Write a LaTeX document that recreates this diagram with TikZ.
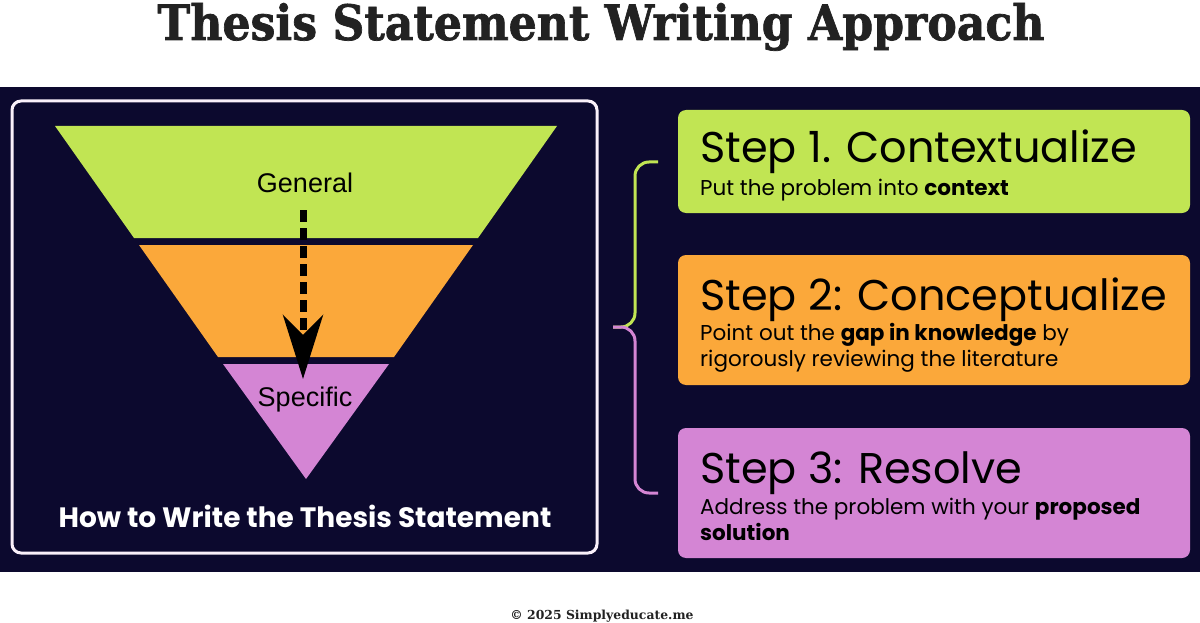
\documentclass[tikz,border=0pt]{standalone}
\usepackage{graphicx}
\usepackage{fontspec}
\setmainfont{DejaVu Serif}
\newfontfamily\titlefont[FakeBold=1.5]{DejaVu Serif Bold}
\newfontfamily\stepfont{Poppins}
\newfontfamily\funnelfont{Liberation Sans}
\usetikzlibrary{arrows.meta,positioning}
\definecolor{navycol}{RGB}{12,9,46}
\definecolor{greencol}{RGB}{193,229,83}
\definecolor{orangecol}{RGB}{251,168,58}
\definecolor{purplecol}{RGB}{212,133,212}
\definecolor{titlecol}{RGB}{34,34,34}

\begin{document}
\begin{tikzpicture}[
    x=1pt, y=-1pt,
    steptitle/.style={anchor=base west, inner sep=0, font=\stepfont\fontsize{43}{48}\selectfont},
    stepsub/.style={anchor=base west, inner sep=0, align=left, font=\stepfont\fontsize{21.5}{26}\selectfont},
    stepbox/.style={rounded corners=8pt},
    funnellbl/.style={inner sep=0, font=\funnelfont\fontsize{27}{30}\selectfont},
    bracelink/.style={line width=3pt, rounded corners=14pt},
]
\useasboundingbox (0,0) rectangle (1200,623);
\fill[white] (0,0) rectangle (1200,623);

% title and footer
\node[anchor=base, inner sep=0, text=titlecol] (title) at (601,40)
  {\resizebox{887pt}{37pt}{\titlefont Thesis Statement Writing Approach}};
\node[anchor=base, inner sep=0, text=titlecol, font=\bfseries\fontsize{12.4}{14}\selectfont] (footer) at (602,619)
  {\textcopyright\ 2025 Simplyeducate.me};

% dark panel
\fill[navycol] (0,87) rectangle (1200,572);
\draw[white!88!purplecol, line width=3pt, rounded corners=9pt] (12,101) rectangle (597,553);

% funnel
\fill[greencol] (55,126) -- (557,126) -- (478,238) -- (134,238) -- cycle;
\fill[orangecol] (139,245) -- (473,245) -- (394,357) -- (218,357) -- cycle;
\fill[purplecol] (223,364) -- (389,364) -- (306,479) -- cycle;
\node[funnellbl] (general) at (305,183) {General};
\node[funnellbl] (specific) at (305,400) {Specific};
\coordinate (arrtop) at (303,210);
\coordinate (arrtip) at (303,379);
\draw[line width=7pt, dash pattern=on 12pt off 6pt,
  -{Stealth[length=64pt, width=40pt, inset=20pt]}] (arrtop) -- (arrtip);
\node[inner sep=0, text=white, font=\stepfont\bfseries\fontsize{28}{32}\selectfont] (howto) at (305,516)
  {How to Write the Thesis Statement};

% step boxes
\fill[stepbox, greencol] (678,110) rectangle (1190,213);
\fill[stepbox, orangecol] (678,255) rectangle (1190,385);
\fill[stepbox, purplecol] (678,428) rectangle (1190,558);

\node[steptitle] (s1) at (700,163) {Step 1. Contextualize};
\node[stepsub] (s1sub) at (700,195) {Put the problem into \textbf{context}};
\node[steptitle] (s2) at (700,310) {Step 2: Conceptualize};
\node[stepsub] (s2sub) at (700,366) {Point out the \textbf{gap in knowledge} by\\rigorously reviewing the literature};
\node[steptitle] (s3) at (700,483) {Step 3: Resolve};
\node[stepsub] (s3sub) at (700,540) {Address the problem with your \textbf{proposed}\\\textbf{solution}};

% brace
\coordinate (brtop) at (658,162);
\coordinate (brtip) at (613,327);
\coordinate (brbot) at (658,493);
\draw[bracelink, greencol] (brtop) -- (635,162) -- (635,327) -- (brtip);
\draw[bracelink, purplecol] (brtip) -- (635,327) -- (635,493) -- (brbot);
\end{tikzpicture}
\end{document}
